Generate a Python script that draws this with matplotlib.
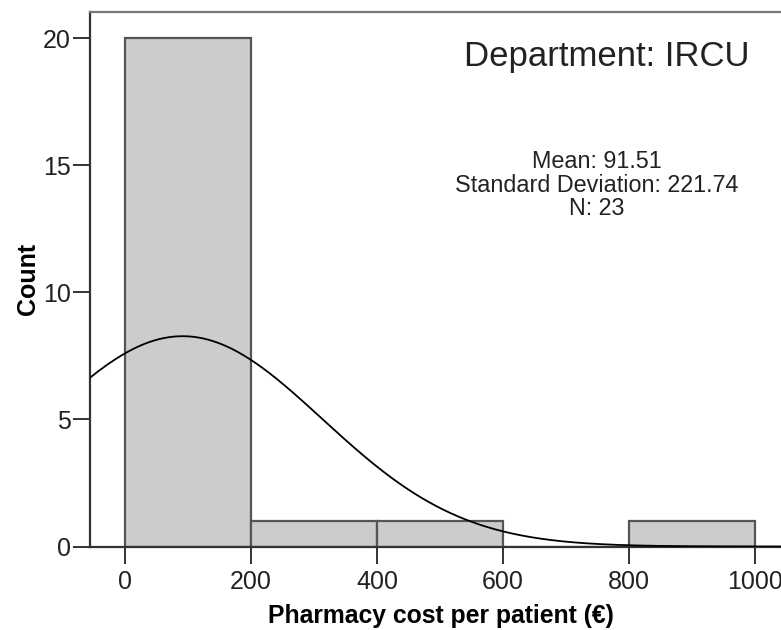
import numpy as np
import matplotlib.pyplot as plt

"""Data"""
bin_edges = [0, 200, 400, 600, 800, 1000]
counts = [20, 1, 1, 0, 1]
mean_cost = 91.51
sd_cost = 221.74
n_patients = 23
department = "IRCU"

"""Plot"""
plt.rcParams['font.family'] = ['Liberation Sans', 'DejaVu Sans']

fig = plt.figure(figsize=(7.81, 6.30), dpi=100)
# axes run past the right edge of the figure, so the right frame is cut off
ax = fig.add_axes([0.1152, 0.1325, 0.94, 0.8484])

lefts = np.array(bin_edges[:-1])
widths = np.diff(bin_edges)
ax.bar(lefts, counts, width=widths, align='edge', color='#cccccc',
       edgecolor='#555555', linewidth=1.6, zorder=2)

# normal curve scaled to the histogram (N * bin width)
xlim = (-55.6, 1110)
xs = np.linspace(xlim[0], xlim[1], 600)
scale = n_patients * widths[0]
ys = scale / (sd_cost * np.sqrt(2 * np.pi)) * np.exp(-0.5 * ((xs - mean_cost) / sd_cost) ** 2)
ax.plot(xs, ys, color='black', linewidth=1.3, zorder=3)

ax.set_xlim(*xlim)
ax.set_ylim(0, 21.03)
ax.set_xticks(bin_edges)
ax.set_yticks([0, 5, 10, 15, 20])

for side in ['left', 'bottom']:
    ax.spines[side].set_color('#333333')
    ax.spines[side].set_linewidth(1.6)
ax.spines['top'].set_color('#777777')
ax.spines['top'].set_linewidth(1.6)
ax.spines['right'].set_visible(False)

ax.tick_params(axis='both', direction='out', length=12, width=1.4,
               color='#333333', labelsize=18, labelcolor='#222222')
ax.tick_params(axis='x', pad=5)
ax.tick_params(axis='y', pad=2)

fig.text(0.036, 0.557, 'Count', rotation=90, fontsize=18, fontweight='bold',
         ha='center', va='center')
fig.text(0.564, 0.022, 'Pharmacy cost per patient (\u20ac)', fontsize=17.8,
         fontweight='bold', ha='center', va='center')

fig.text(0.777, 0.911, 'Department: ' + department, fontsize=25,
         ha='center', va='center', color='#222222')
stats = 'Mean: {:.2f}\nStandard Deviation: {:.2f}\nN: {}'.format(mean_cost, sd_cost, n_patients)
fig.text(0.7645, 0.706, stats, fontsize=16.8, ha='center', va='center',
         linespacing=1.02, color='#222222')

fig.savefig('out.png', dpi=100)
print("end of script")
